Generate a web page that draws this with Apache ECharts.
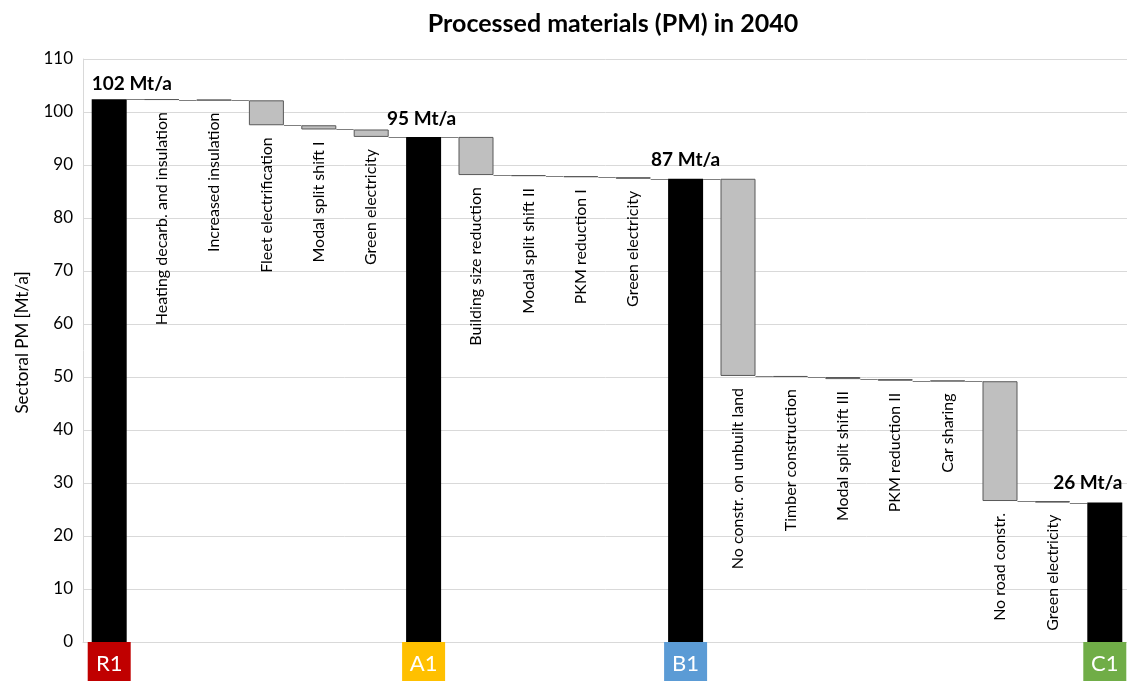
<!DOCTYPE html>
<html>
<head>
<meta charset="utf-8">
<title>Processed materials (PM) in 2040</title>
<script src="https://cdn.jsdelivr.net/npm/echarts@6/dist/echarts.min.js"></script>
<style>
  html, body { margin: 0; padding: 0; background: #ffffff; }
  #chart { width: 1127px; height: 681px; }
</style>
</head>
<body>
<div id="chart"></div>
<script>
// Waterfall steps, left to right. Scenario totals (R1, A1, B1, C1) carry null
// in `changes`; their height is the running level at that point.
const categories = [
  'R1',
  'Heating decarb. and insulation',
  'Increased insulation',
  'Fleet electrification',
  'Modal split shift I',
  'Green electricity',
  'A1',
  'Building size reduction',
  'Modal split shift II',
  'PKM reduction I',
  'Green electricity',
  'B1',
  'No constr. on unbuilt land',
  'Timber construction',
  'Modal split shift III',
  'PKM reduction II',
  'Car sharing',
  'No road constr.',
  'Green electricity',
  'C1'
];

// Sectoral PM of the reference scenario R1, Mt/a
const startValue = 102.4;

// Change of each measure, Mt/a (null = scenario total)
const changes = [
  null, -0.1, -0.1, -4.7, -0.8, -1.4,
  null, -7.2, -0.2, -0.2, -0.3,
  null, -37.2, -0.2, -0.4, -0.3, -0.1, -22.6, -0.3,
  null
];

// Value axis
const yMin = 0;
const yMax = 110;
const yStep = 10;

// Scenario badge colours under the axis
const scenarioColors = { R1: '#c00000', A1: '#ffc000', B1: '#5b9bd5', C1: '#70ad47' };

const FONT = 'Lato, "Open Sans", "DejaVu Sans", sans-serif';
const BAR_W = 35;

// Running level -> invisible base + visible segment for each step
const baseData = [];
const barData = [];
const levels = [];
let level = startValue;

// Position tweaks of the scenario total labels
const totalLabelPlacement = {
  R1: { align: 'left', offset: [-BAR_W / 2, 0], distance: 6 },
  A1: { align: 'center', offset: [-2, 0], distance: 9 },
  B1: { align: 'center', offset: [0, 0], distance: 9 },
  C1: { align: 'right', offset: [BAR_W / 2, 0], distance: 10 }
};

categories.forEach((name, i) => {
  const ch = changes[i];
  if (ch === null) {
    const p = totalLabelPlacement[name];
    baseData.push(0);
    barData.push({
      value: level,
      itemStyle: { color: '#000000', borderWidth: 0 },
      label: {
        show: true,
        position: 'top',
        distance: p.distance,
        align: p.align,
        offset: p.offset,
        formatter: (d) => Math.round(d.value) + ' Mt/a',
        fontFamily: FONT,
        fontWeight: 'bold',
        fontSize: 19,
        color: '#000000'
      }
    });
  } else {
    const next = level + ch;
    baseData.push(Math.min(level, next));
    barData.push({
      value: Math.abs(ch),
      itemStyle: { color: '#bfbfbf', borderColor: '#595959', borderWidth: 1 },
      label: {
        show: true,
        position: 'bottom',
        distance: 12,
        rotate: 90,
        align: 'right',
        verticalAlign: 'middle',
        formatter: () => name,
        fontFamily: FONT,
        fontSize: 16,
        color: '#000000'
      }
    });
    level = next;
  }
  levels.push(level);
});

// Connector segments: level after step i, from bar i to bar i+1
const connectorData = levels.slice(0, -1).map((v, i) => [i, v]);

const richBadges = {};
Object.keys(scenarioColors).forEach((k) => {
  richBadges[k] = {
    backgroundColor: scenarioColors[k],
    color: '#ffffff',
    fontFamily: FONT,
    fontSize: 22,
    width: 43,
    height: 44,
    lineHeight: 44,
    align: 'center'
  };
});

const chart = echarts.init(document.getElementById('chart'), null, { renderer: 'canvas' });

chart.setOption({
  animation: false,
  backgroundColor: '#ffffff',
  title: {
    text: 'Processed materials (PM) in 2040',
    left: 608,
    top: 6,
    textAlign: 'center',
    textStyle: { fontFamily: FONT, fontWeight: 'bold', fontSize: 25, color: '#000000' }
  },
  grid: {
    left: 83,
    top: 59,
    width: 1048,
    height: 583,
    containLabel: false,
    outerBoundsMode: 'none'
  },
  xAxis: {
    type: 'category',
    data: categories,
    axisLine: { show: true, lineStyle: { color: '#d9d9d9', width: 1 } },
    axisTick: { show: false },
    axisLabel: {
      interval: 0,
      margin: 0,
      formatter: (value) => (scenarioColors[value] ? '{' + value + '|' + value + '}' : ''),
      rich: richBadges
    },
    splitLine: { show: false }
  },
  yAxis: {
    type: 'value',
    min: yMin,
    max: yMax,
    interval: yStep,
    name: 'Sectoral PM [Mt/a]',
    nameLocation: 'middle',
    nameGap: 52,
    nameRotate: 90,
    nameTextStyle: {
      fontFamily: FONT,
      fontSize: 17,
      color: '#000000',
      padding: [0, 0, 0, 16]
    },
    axisLine: { show: true, lineStyle: { color: '#d9d9d9', width: 1 } },
    axisTick: { show: false },
    axisLabel: { fontFamily: FONT, fontSize: 17, color: '#000000', margin: 10 },
    splitLine: { show: true, lineStyle: { color: '#d9d9d9', width: 1 } }
  },
  series: [
    {
      type: 'custom',
      name: 'connectors',
      coordinateSystem: 'cartesian2d',
      z: 1,
      silent: true,
      data: connectorData,
      encode: { x: 0, y: 1 },
      renderItem: (params, api) => {
        const i = api.value(0);
        const v = api.value(1);
        const a = api.coord([i, v]);
        const b = api.coord([i + 1, v]);
        const y = Math.round(a[1]) + 0.5;
        return {
          type: 'line',
          shape: { x1: a[0] + BAR_W / 2, y1: y, x2: b[0] - BAR_W / 2, y2: y },
          style: { stroke: '#7f7f7f', lineWidth: 1 }
        };
      }
    },
    {
      type: 'bar',
      name: 'base',
      stack: 'wf',
      barWidth: BAR_W,
      silent: true,
      itemStyle: { color: 'transparent', borderColor: 'transparent' },
      data: baseData,
      z: 2
    },
    {
      type: 'bar',
      name: 'PM',
      stack: 'wf',
      barWidth: BAR_W,
      data: barData,
      z: 3
    }
  ]
});
</script>
</body>
</html>
